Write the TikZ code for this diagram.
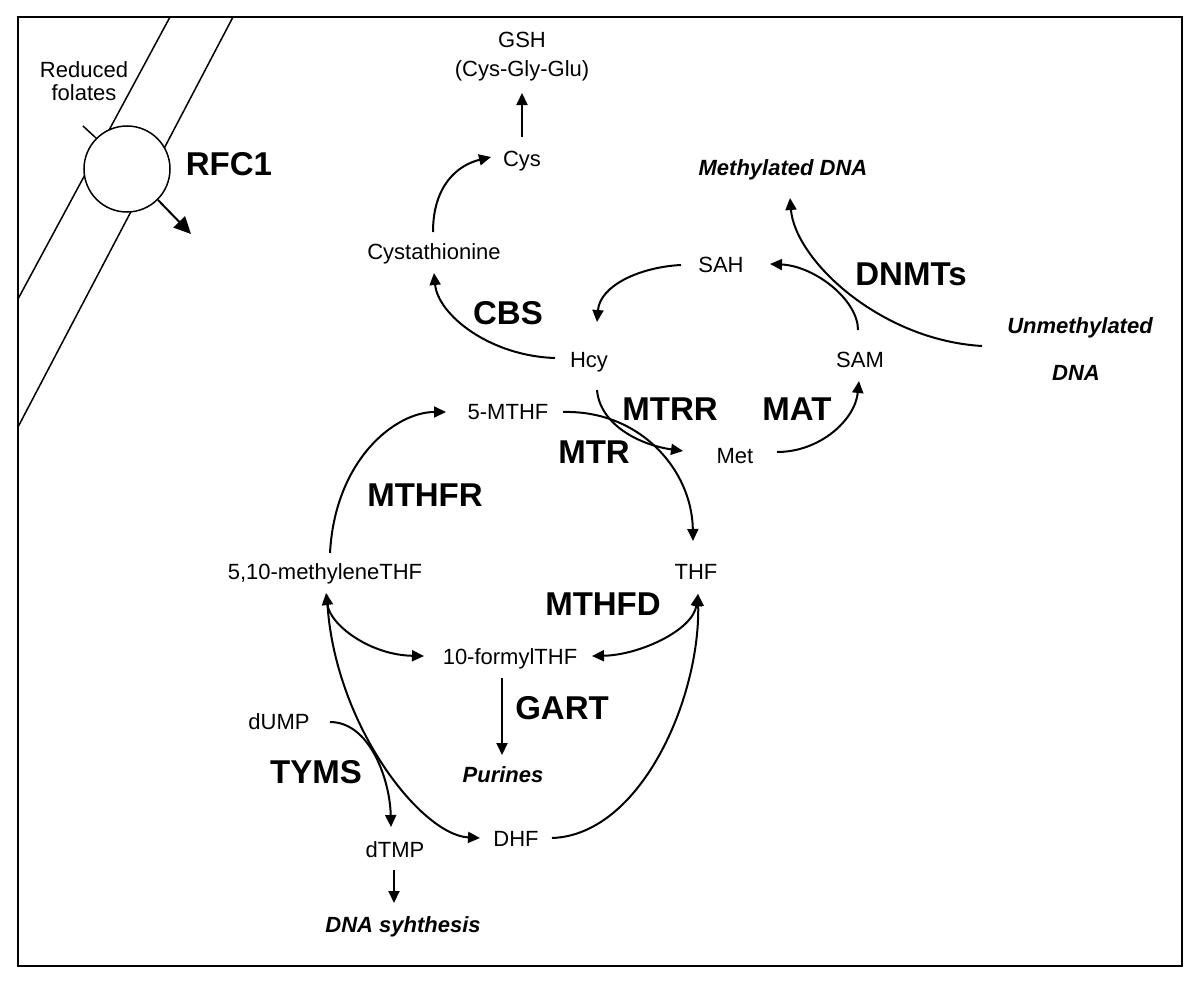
\documentclass[tikz,border=0pt]{standalone}
\usepackage{fontspec}
\setmainfont{Liberation Sans}
\usetikzlibrary{arrows.meta,calc}
\begin{document}
\begin{tikzpicture}[x=1pt,y=-1pt,
  lbl/.style={font=\fontsize{22}{26}\selectfont, inner sep=0pt, text height=15.5pt, text depth=0pt},
  enz/.style={font=\fontsize{33}{38}\selectfont\bfseries, inner sep=0pt, text height=23.6pt, text depth=0pt},
  prod/.style={font=\fontsize{22}{26}\selectfont\bfseries\itshape, inner sep=0pt, text height=15.8pt, text depth=0pt},
  conn/.style={line width=2pt, -{Triangle[length=12pt,width=11pt]}},
  dconn/.style={line width=2pt, {Triangle[length=12pt,width=11pt]}-{Triangle[length=12pt,width=11pt]}},
  memb/.style={line width=1.5pt}
]
\useasboundingbox (0,0) rectangle (1200,982);
\fill[white] (0,0) rectangle (1200,982);
\draw[line width=2pt] (18,17) rectangle (1182,966);

% membrane
\draw[memb] (170,17) -- (18,299);
\draw[memb] (233,17) -- (18,427);
\node[draw, circle, line width=1.5pt, fill=white, minimum size=86pt, inner sep=0pt] (circ) at (127,169) {};
\coordinate (rfcin) at (83,126);
\coordinate (rfcout) at (191,234);
\draw[memb] (rfcin) -- (circ.135);
\draw[line width=2pt, -{Triangle[length=17pt,width=16pt]}] (circ.-45) -- (rfcout);
\node[lbl] (red1) at (84,70) {Reduced};
\node[lbl] (red2) at (84,93) {folates};
\node[enz] (rfc) at (229,164) {RFC1};

% metabolites
\node[lbl] (gsh) at (522,40) {GSH};
\node[lbl] (gshsub) at (522,69) {(Cys-Gly-Glu)};
\node[lbl] (cys) at (522,159) {Cys};
\node[lbl] (cysta) at (434,252) {Cystathionine};
\node[lbl] (hcy) at (589,360) {Hcy};
\node[lbl] (sah) at (721,265) {SAH};
\node[lbl] (sam) at (860,360) {SAM};
\node[lbl] (met) at (735,456) {Met};
\node[prod] (methdna) at (783,168) {Methylated DNA};
\node[prod] (unmeth) at (1080,326) {Unmethylated};
\node[prod] (unmeth2) at (1076,373) {DNA};
\node[lbl] (mthf) at (508,412) {5-MTHF};
\node[lbl] (methylene) at (325,572) {5,10-methyleneTHF};
\node[lbl] (thf) at (696,572) {THF};
\node[lbl] (formyl) at (510,657) {10-formylTHF};
\node[prod] (purines) at (503,775) {Purines};
\node[lbl] (dump) at (279,722) {dUMP};
\node[lbl] (dtmp) at (395,850) {dTMP};
\node[lbl] (dhf) at (516,839) {DHF};
\node[prod] (dnasyn) at (403,925) {DNA syhthesis};

% enzymes
\node[enz] (cbs) at (508,313) {CBS};
\node[enz] (dnmts) at (911,274) {DNMTs};
\node[enz] (mtrr) at (670,409) {MTRR};
\node[enz] (mat) at (797,409) {MAT};
\node[enz] (mtr) at (594,452) {MTR};
\node[enz] (mthfr) at (425,495) {MTHFR};
\node[enz] (mthfd) at (603,604) {MTHFD};
\node[enz] (gart) at (562,708) {GART};
\node[enz] (tyms) at (316,772) {TYMS};

% connectors
\draw[conn] ($(cys)+(0,-22)$) -- ($(gshsub)+(0,24)$);
\draw[conn] ($(cysta)+(-1,-20)$) .. controls +(0,-47) and +(-33,8) .. ($(cys)+(-31,-2)$);
\draw[conn] ($(hcy)+(-34,-2)$) .. controls +(-65,-2) and +(4,42) .. ($(cysta)+(0,21)$);
\draw[conn] ($(sah)+(-40,0)$) .. controls +(-40,2) and +(3,-37) .. ($(hcy)+(8,-38)$);
\draw[conn] ($(sam)+(-2,-30)$) .. controls +(0,-30) and +(45,2) .. ($(sah)+(49,-1)$);
\draw[conn] ($(unmeth)+(-98,20)$) .. controls +(-102,-6) and +(5,62) .. ($(methdna)+(7,30)$);
\draw[conn] ($(met)+(42,-4)$) .. controls +(43,0) and +(-4,39) .. ($(sam)+(-1,21)$);
\draw[conn] ($(hcy)+(8,30)$) .. controls +(3,35) and +(-43,-6) .. ($(met)+(-52,-5)$);
\draw[conn] ($(mthf)+(55,0)$) .. controls +(77,-2) and +(-1,-71) .. ($(thf)+(-3,-31)$);
\draw[conn] ($(methylene)+(5,-19)$) .. controls +(5,-93) and +(-51,0) .. ($(mthf)+(-62,0)$);
\draw[dconn] ($(methylene)+(1,21)$) .. controls +(4,32) and +(-54,-1) .. ($(formyl)+(-86,-1)$);
\draw[dconn] ($(thf)+(2,22)$) .. controls +(-5,36) and +(48,-1) .. ($(formyl)+(82,-1)$);
\draw[conn] ($(formyl)+(-8,21)$) -- ($(purines)+(-1,-20)$);
\draw[conn] ($(dump)+(51,0)$) .. controls +(40,0) and +(-1,-47) .. ($(dtmp)+(-4,-23)$);
\draw[conn] ($(dtmp)+(-1,20)$) -- ($(dnasyn)+(-9,-22)$);
\draw[conn] ($(methylene)+(2,23)$) .. controls +(4,125) and +(-60,-3) .. ($(dhf)+(-36,-1)$);
\draw[conn] ($(dhf)+(36,-1)$) .. controls +(88,-3) and +(2,106) .. ($(thf)+(2,22)$);
\end{tikzpicture}
\end{document}
